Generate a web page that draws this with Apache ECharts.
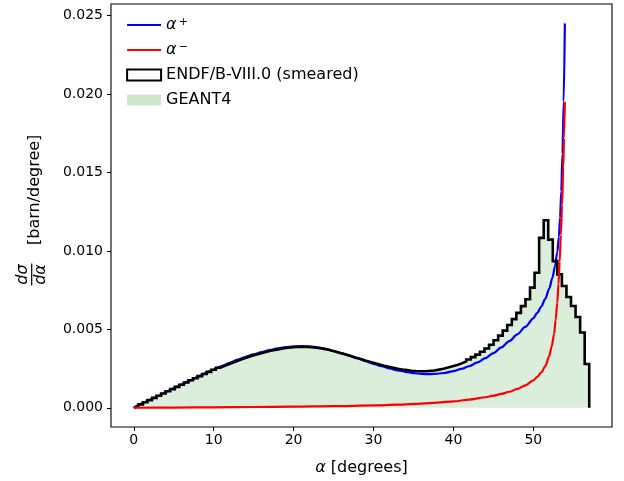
<!DOCTYPE html>
<html><head><meta charset="utf-8">
<script src="https://cdn.jsdelivr.net/npm/echarts@6.0.0/dist/echarts.min.js"></script>
<style>html,body{margin:0;padding:0;background:#fff}#c{width:624px;height:481px}</style>
</head><body><div id="c"></div><script>
// ---- data ----
const binWidth = 0.57; // degrees, 100 bins from 0 to 57
const endf = [
0.00007,0.00021,0.00035,0.00049,0.00063,0.00077,0.00091,0.00105,0.00119,0.00133,
0.00147,0.00161,0.00175,0.00188,0.00202,0.00215,0.00229,0.00242,0.00255,0.00267,
0.00279,0.00290,0.00301,0.00312,0.00322,0.00331,0.00340,0.00348,0.00356,0.00363,
0.00369,0.00374,0.00379,0.00383,0.00386,0.00388,0.00389,0.00388,0.00386,0.00383,
0.00379,0.00374,0.00368,0.00361,0.00353,0.00345,0.00336,0.00327,0.00318,0.00309,
0.00300,0.00292,0.00284,0.00276,0.00268,0.00261,0.00255,0.00249,0.00244,0.00240,
0.00236,0.00234,0.00233,0.00233,0.00235,0.00238,0.00243,0.00249,0.00256,0.00264,
0.00273,0.00283,0.00295,0.00308,0.00323,0.00339,0.00357,0.00378,0.00402,0.00430,
0.00460,0.00492,0.00528,0.00565,0.00605,0.00648,0.00692,0.00766,0.00861,0.01083,
0.01195,0.01072,0.00935,0.00850,0.00776,0.00706,0.00649,0.00579,0.00480,0.00279
];
const geant4 = endf.slice();

const alphaPlusX = [0,1,2,3,4,5,6,7,8,9,10,11,12,13,14,15,16,17,18,19,20,21,22,23,24,25,26,27,28,29,30,31,32,33,34,35,36,37,38,39,40,41,42,43,44,45,46,47,48,49,50,50.5,51,51.5,52,52.4,52.7,53.0,53.2,53.35,53.5,53.65,53.8,53.95];
const alphaPlusY = [0,0.00026,0.00051,0.00075,0.001,0.00124,0.00149,0.00173,0.00197,0.00221,0.00244,0.00266,0.00287,0.00307,0.00325,0.00341,0.00355,0.00368,0.00378,0.00386,0.00391,0.00393,0.00391,0.00385,0.00375,0.00362,0.00347,0.00331,0.00314,0.00297,0.0028,0.00265,0.00251,0.00239,0.00229,0.00221,0.00216,0.00214,0.00217,0.00223,0.00234,0.00248,0.00266,0.00289,0.00316,0.00348,0.00385,0.00425,0.00468,0.00515,0.0057,0.00605,0.00645,0.00695,0.0076,0.0083,0.009,0.0099,0.0109,0.0121,0.0138,0.0162,0.0195,0.0245];

const alphaMinusX = [0,5,10,15,20,25,30,33,36,38,40,42,44,45,46,47,48,49,50,50.5,51,51.5,52,52.3,52.6,52.8,53.0,53.15,53.3,53.45,53.6,53.75,53.85,53.95];
const alphaMinusY = [0,0.00001,0.00003,0.00005,0.00007,0.0001,0.00015,0.0002,0.00027,0.00033,0.00041,0.00052,0.00067,0.00077,0.00088,0.00102,0.0012,0.00143,0.00175,0.00197,0.00225,0.00265,0.0033,0.0039,0.0047,0.0056,0.0067,0.0079,0.0093,0.011,0.0129,0.0153,0.0172,0.0195];

const xTicks = [0,10,20,30,40,50];
const xTickLabels = ['0','10','20','30','40','50'];
const yTicks = [0,0.005,0.01,0.015,0.02,0.025];
const yTickLabels = ['0.000','0.005','0.010','0.015','0.020','0.025'];

// ---- build ----
function stepPoints(vals){
  const pts = [[0,0]];
  for(let i=0;i<vals.length;i++){
    pts.push([i*binWidth, vals[i]]);
    pts.push([(i+1)*binWidth, vals[i]]);
  }
  pts.push([vals.length*binWidth, 0]);
  return pts;
}
const zip = (xs,ys)=>xs.map((x,i)=>[x,ys[i]]);

const FONT = 'DejaVu Sans';
const chart = echarts.init(document.getElementById('c'), null, {renderer:'canvas'});
const xLabelMap = {}; xTicks.forEach((v,i)=>xLabelMap[v]=xTickLabels[i]);

const option = {
  animation:false,
  backgroundColor:'#fff',
  grid:{left:111, right:12, top:4, bottom:53, show:true, borderColor:'#000', borderWidth:1.1, backgroundColor:'transparent'},
  legend:{
    orient:'vertical', left:126, top:17, padding:0, itemGap:9,
    itemWidth:34, itemHeight:11,
    textStyle:{fontFamily:FONT, fontSize:16, color:'#000', lineHeight:16, padding:[0,0,0,0],
      rich:{a:{fontFamily:FONT, fontSize:16, fontStyle:'italic', color:'#000', lineHeight:16},
            s:{fontFamily:FONT, fontSize:11, color:'#000', verticalAlign:'top', lineHeight:16, padding:[0,0,0,2]}}},
    formatter:function(n){
      if(n==='α+') return '{a|α}{s|+}';
      if(n==='α−') return '{a|α}{s|−}';
      return n;
    },
    data:[
      {name:'α+', itemStyle:{opacity:0}, lineStyle:{width:2.2, color:'#0000ff'}},
      {name:'α−', itemStyle:{opacity:0}, lineStyle:{width:2.2, color:'#ff0000'}},
      {name:'ENDF/B-VIII.0 (smeared)', icon:'rect', itemStyle:{color:'#fff', borderColor:'#000', borderWidth:2}},
      {name:'GEANT4', icon:'rect', itemStyle:{color:'rgba(0,128,0,0.2)', borderWidth:0}}
    ]
  },
  xAxis:{
    type:'value', min:-2.85, max:59.85,
    name:'{a|α} [degrees]', nameLocation:'middle', nameGap:33,
    nameTextStyle:{fontFamily:FONT, fontSize:16, color:'#000', rich:{a:{fontFamily:FONT, fontSize:16, fontStyle:'italic', color:'#000'}}},
    axisLine:{show:false, onZero:false},
    splitLine:{show:false},
    axisTick:{show:true, length:4, lineStyle:{color:'#000', width:1}, customValues:xTicks},
    axisLabel:{fontFamily:FONT, fontSize:14, color:'#000', margin:6, customValues:xTicks,
      formatter:v=>xLabelMap[v]!==undefined?xLabelMap[v]:''}
  },
  yAxis:{
    type:'value', min:-0.0012255, max:0.0257355,
    axisLine:{show:false, onZero:false},
    splitLine:{show:false},
    axisTick:{show:true, length:4, lineStyle:{color:'#000', width:1}, customValues:yTicks},
    axisLabel:{fontFamily:FONT, fontSize:14, color:'#000', margin:8, customValues:yTicks,
      formatter:v=>{for(let i=0;i<yTicks.length;i++){if(Math.abs(v-yTicks[i])<1e-9) return yTickLabels[i];} return '';}}
  },
  series:[
    {name:'GEANT4', type:'line', data:stepPoints(geant4), symbol:'none', silent:true,
     lineStyle:{width:0, color:'rgba(0,128,0,0.2)'}, itemStyle:{color:'rgba(0,128,0,0.2)'},
     areaStyle:{color:'rgba(0,128,0,0.2)', origin:0}, z:1},
    {name:'α+', type:'line', data:zip(alphaPlusX, alphaPlusY), symbol:'none', silent:true,
     smooth:0.3, smoothMonotone:'x',
     lineStyle:{width:2.2, color:'#0000ff'}, itemStyle:{color:'#0000ff'}, z:2},
    {name:'ENDF/B-VIII.0 (smeared)', type:'line', data:stepPoints(endf), symbol:'none', silent:true,
     lineStyle:{width:2.6, color:'#000', join:'miter'}, itemStyle:{color:'#000'}, z:3},
    {name:'α−', type:'line', data:zip(alphaMinusX, alphaMinusY), symbol:'none', silent:true,
     smooth:0.3, smoothMonotone:'x',
     lineStyle:{width:2.2, color:'#ff0000'}, itemStyle:{color:'#ff0000'}, z:4}
  ],
  graphic:[
    {type:'group', x:31.7, y:274.5, rotation:Math.PI/2, children:[
      {type:'text', x:0, y:-9, style:{text:'dσ', fontFamily:FONT, fontSize:16, fontStyle:'italic', fill:'#000', align:'center', verticalAlign:'middle'}},
      {type:'line', shape:{x1:-11, y1:0, x2:11, y2:0}, style:{stroke:'#000', lineWidth:1.2}},
      {type:'text', x:0, y:9.5, style:{text:'dα', fontFamily:FONT, fontSize:16, fontStyle:'italic', fill:'#000', align:'center', verticalAlign:'middle'}},
      {type:'text', x:29.5, y:3.3, style:{text:'[barn/degree]', fontFamily:FONT, fontSize:16, fill:'#000', align:'left', verticalAlign:'middle'}}
    ]}
  ]
};
chart.setOption(option);
</script></body></html>
